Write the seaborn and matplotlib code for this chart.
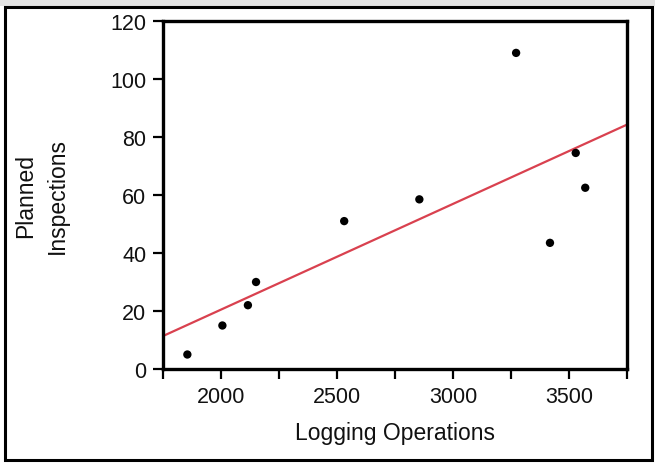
import matplotlib
matplotlib.use("Agg")
import matplotlib.pyplot as plt
from matplotlib.patches import Rectangle
from matplotlib.ticker import MultipleLocator
import seaborn as sns
import pandas as pd

# Logging operations vs planned inspections
logging_ops = [1855, 2006, 2116, 2151, 2531, 2855, 3272, 3418, 3529, 3570]
planned_inspections = [5, 15, 22, 30, 51, 58.5, 109, 43.5, 74.5, 62.5]

x_ticks = [2000, 2500, 3000, 3500]
y_ticks = [0, 20, 40, 60, 80, 100, 120]

df = pd.DataFrame({"Logging Operations": logging_ops,
                   "Planned Inspections": planned_inspections})

sns.set_theme(style="ticks")
plt.rcParams["font.family"] = ["Liberation Sans", "DejaVu Sans"]

W, H = 655, 464
fig = plt.figure(figsize=(W / 100, H / 100), dpi=100)
fig.patch.set_facecolor("white")

# window strip and outer frame
fig.patches.append(Rectangle((0, 1 - 7 / H), 1, 7 / H, transform=fig.transFigure,
                             facecolor="#e3e3e3", edgecolor="none", zorder=0))
fig.patches.append(Rectangle((5 / W, 3 / H), (652 - 5) / W, (456 - 3) / H,
                             transform=fig.transFigure, facecolor="none",
                             edgecolor="black", linewidth=2.2, zorder=1))

ax = fig.add_axes([163 / W, 1 - 370 / H, (627 - 163) / W, (370 - 22) / H])
ax.set_xlim(1750, 3750)
ax.set_ylim(0, 120)

sns.regplot(data=df, x="Logging Operations", y="Planned Inspections", ax=ax,
            ci=None, truncate=False,
            scatter_kws=dict(s=36, color="black", alpha=1, edgecolor="none", zorder=3),
            line_kws=dict(color="#d9414f", linewidth=1.6, zorder=2))

ax.set_xlim(1750, 3750)
ax.set_ylim(0, 120)
ax.set_xticks(x_ticks)
ax.set_yticks(y_ticks)
ax.xaxis.set_minor_locator(MultipleLocator(250))

for sp in ax.spines.values():
    sp.set_visible(True)
    sp.set_linewidth(2.4)
    sp.set_color("black")

ax.tick_params(axis="both", which="both", direction="out", length=7, width=1.6,
               color="black", labelsize=15.5, labelcolor="#111111", pad=5)
ax.tick_params(axis="x", which="minor", length=7, width=1.6)

ax.set_xlabel("Logging Operations", fontsize=16.5, color="#111111", labelpad=10)
ax.set_ylabel("Planned\nInspections", fontsize=16.5, color="#111111", labelpad=30,
              linespacing=1.45)

fig.savefig("out.png", dpi=100)
